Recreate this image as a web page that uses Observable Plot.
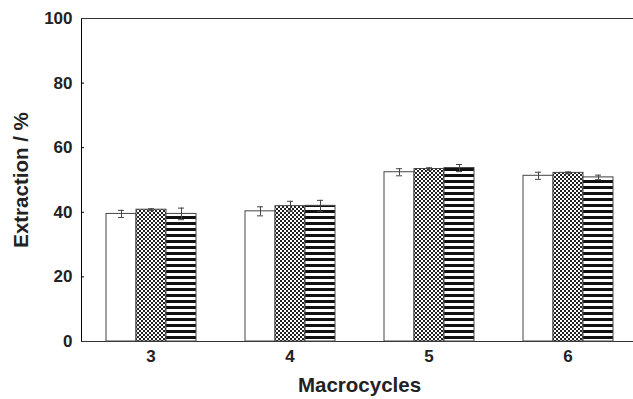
<!DOCTYPE html>
<html>
<head>
<meta charset="utf-8">
<script src="https://cdn.jsdelivr.net/npm/d3@7"></script>
<script src="https://cdn.jsdelivr.net/npm/@observablehq/plot@0.6"></script>
<style>
  html, body { margin: 0; padding: 0; background: #fff; }
  #chart svg { display: block; font-family: "Liberation Sans", Arial, sans-serif; font-weight: bold; }
  #chart svg text { fill: #222; }
  [aria-label="fx-axis label"] text, [aria-label="y-axis label"] text { font-size: 20.5px; }
</style>
</head>
<body>
<div id="chart"></div>
<script>
const macrocycles = ["3", "4", "5", "6"];
const seriesNames = ["white", "checker", "striped"];
const whiteValues   = [39.5, 40.3, 52.4, 51.3];
const whiteErrors   = [1.1, 1.4, 1.1, 1.1];
const checkerValues = [40.8, 41.9, 53.4, 52.2];
const checkerErrors = [0.3, 1.5, 0.4, 0.3];
const stripedValues = [39.5, 42.0, 53.7, 50.8];
const stripedErrors = [1.8, 1.7, 1.1, 0.7];
const yTicks = [0, 20, 40, 60, 80, 100];

const valueSets = [whiteValues, checkerValues, stripedValues];
const errorSets = [whiteErrors, checkerErrors, stripedErrors];
const rows = [];
macrocycles.forEach((m, i) => {
  seriesNames.forEach((s, j) => {
    rows.push({macro: m, series: s, value: valueSets[j][i], err: errorSets[j][i]});
  });
});

const chart = Plot.plot({
  width: 633,
  height: 399,
  marginLeft: 80,
  marginRight: -4,
  marginTop: 18,
  marginBottom: 58,
  style: {fontSize: "17px", background: "white"},
  fx: {domain: macrocycles, padding: 0, label: "Macrocycles", labelArrow: "none", labelAnchor: "center", labelOffset: 50, tickSize: 0, tickPadding: 8},
  x: {domain: seriesNames, axis: null, paddingInner: 0, paddingOuter: 0.742},
  y: {domain: [0, 100], ticks: yTicks, label: "Extraction / %", labelArrow: "none", labelAnchor: "center", labelOffset: 68, tickSize: -3, tickPadding: 12, line: true},
  color: {type: "ordinal", domain: seriesNames, range: ["white", "url(#checkerPat)", "url(#stripePat)"]},
  marks: [
    Plot.ruleY([0, 100], {stroke: "#333", strokeWidth: 1.2}),
    Plot.barY(rows, {fx: "macro", x: "series", y: "value", fill: "series", stroke: "#444", strokeWidth: 1}),
    Plot.ruleX(rows, {fx: "macro", x: "series", y1: d => d.value - d.err, y2: d => d.value + d.err, stroke: "#444", strokeWidth: 1}),
    Plot.tickY(rows, {fx: "macro", x: "series", y: d => d.value + d.err, stroke: "#444", strokeWidth: 1, insetLeft: 12, insetRight: 12}),
    Plot.tickY(rows, {fx: "macro", x: "series", y: d => d.value - d.err, stroke: "#444", strokeWidth: 1, insetLeft: 12, insetRight: 12})
  ]
});

// patterns for fills
const ns = "http://www.w3.org/2000/svg";
const svg = chart.tagName.toLowerCase() === "svg" ? chart : chart.querySelector("svg");
const defs = document.createElementNS(ns, "defs");
defs.innerHTML = `
  <pattern id="checkerPat" patternUnits="userSpaceOnUse" width="4" height="4">
    <rect width="4" height="4" fill="#fff"/>
    <rect x="0" y="0" width="2" height="2" fill="#222"/>
    <rect x="2" y="2" width="2" height="2" fill="#222"/>
  </pattern>
  <pattern id="stripePat" patternUnits="userSpaceOnUse" width="6" height="6">
    <rect width="6" height="6" fill="#fff"/>
    <rect x="0" y="0" width="6" height="3" fill="#111"/>
  </pattern>`;
svg.insertBefore(defs, svg.firstChild);

document.getElementById("chart").appendChild(chart);
</script>
</body>
</html>
